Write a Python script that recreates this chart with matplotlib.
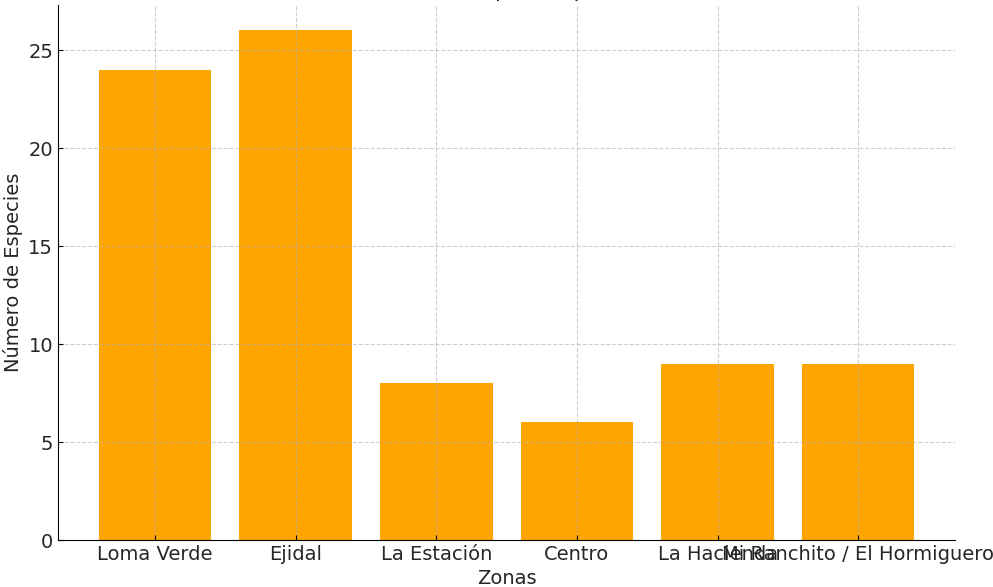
import matplotlib
matplotlib.use("Agg")
import matplotlib.pyplot as plt

zonas = ["Loma Verde", "Ejidal", "La Estación", "Centro", "La Hacienda",
         "Mi Ranchito / El Hormiguero"]
especies = [24, 26, 8, 6, 9, 9]

fig, ax = plt.subplots(figsize=(9.93, 5.87), dpi=100)
fig.subplots_adjust(left=0.0584, right=0.962, bottom=0.08, top=0.9915)

text_color = "#262626"
ax.bar(zonas, especies, color="orange")
ax.set_title("Número de Especies por Zona", fontsize=16, color=text_color)
ax.set_xlabel("Zonas", fontsize=14, labelpad=4, color=text_color)
ax.set_ylabel("Número de Especies", fontsize=14, labelpad=4, color=text_color)
ax.tick_params(axis="both", labelsize=14, direction="in", labelcolor=text_color)
ax.grid(True, linestyle="--", alpha=0.6)
ax.spines["top"].set_visible(False)
ax.spines["right"].set_visible(False)

fig.savefig("out.png", dpi=100)
